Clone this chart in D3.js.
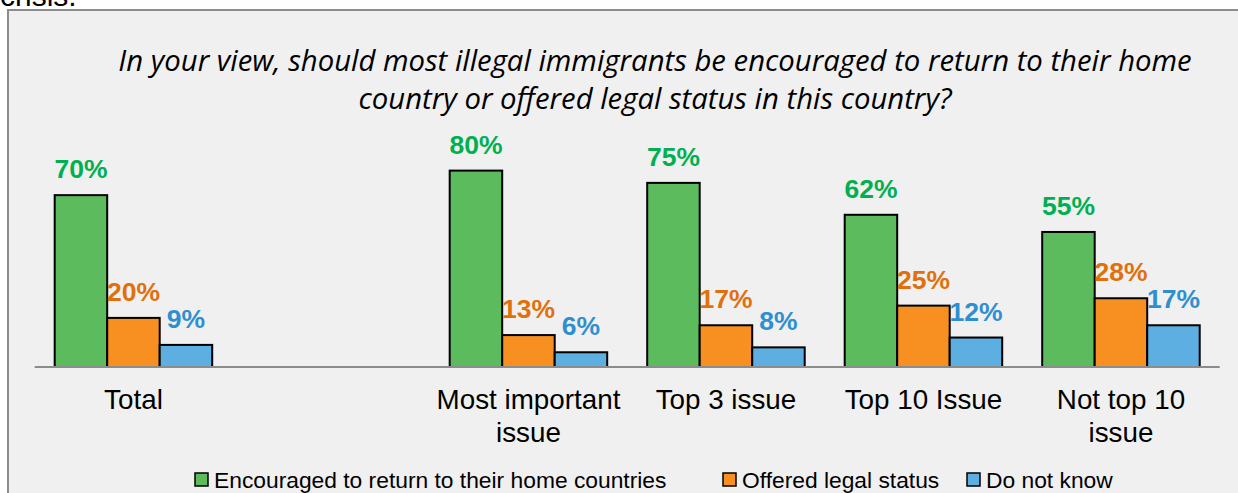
<!DOCTYPE html>
<html><head><meta charset="utf-8">
<script src="https://cdn.jsdelivr.net/npm/d3@7"></script>
<style>
html,body{margin:0;padding:0;background:#fff;}
svg{display:block;}
</style></head>
<body>
<svg id="chart" width="1238" height="493"></svg>
<script>
const categories = ["Total", "", "Most important issue", "Top 3 issue", "Top 10 Issue", "Not top 10 issue"];
const categoryLines = [["Total"], [""], ["Most important", "issue"], ["Top 3 issue"], ["Top 10 Issue"], ["Not top 10", "issue"]];
const seriesNames = ["Encouraged to return to their home countries", "Offered legal status", "Do not know"];
const returnHome = [70, null, 80, 75, 62, 55];
const legalStatus = [20, null, 13, 17, 25, 28];
const doNotKnow = [9, null, 6, 8, 12, 17];
const titleLines = ["In your view, should most illegal immigrants be encouraged to return to their home", "country or offered legal status in this country?"];
const fills = ["#5cbb5c", "#f79020", "#5cafe0"];
const labelColors = ["#00b050", "#e0700c", "#2e8fd0"];
const legendOffsets = [195, 723, 967];

const series = [returnHome, legalStatus, doNotKnow];
const svg = d3.select("#chart");

// cut-off text above frame
svg.append("text").attr("x", 0).attr("y", 6)
  .style("font-family", "Liberation Sans, Arial, sans-serif").style("font-size", "30px").attr("fill", "#000")
  .text("crisis.");

// frame
svg.append("rect").attr("x", 8).attr("y", 10).attr("width", 1240).attr("height", 500)
  .attr("fill", "#f0f0f0").attr("stroke", "#8c8c8c").attr("stroke-width", 2);

// title
const title = svg.append("text").attr("text-anchor", "middle")
  .style("font-family", "Open Sans, sans-serif").style("font-style", "italic").style("font-size", "29.3px").attr("fill", "#000");
title.selectAll("tspan").data(titleLines).join("tspan")
  .attr("x", 655).attr("y", (d, i) => 71 + i * 38).text(d => d);

const x0 = d3.scaleBand().domain(categories).range([34.7, 1219.7]).paddingInner(0.2025).paddingOuter(0.10125);
const x1 = d3.scaleBand().domain([0, 1, 2]).range([0, x0.bandwidth()]);
const y = d3.scaleLinear().domain([0, 100]).range([367, 121.5]);

const groups = svg.append("g").selectAll("g").data(categories).join("g")
  .attr("transform", d => `translate(${x0(d)},0)`);

groups.each(function(cat, ci) {
  const g = d3.select(this);
  series.forEach((s, si) => {
    const v = s[ci];
    if (v == null) return;
    g.append("rect").attr("x", x1(si)).attr("y", y(v))
      .attr("width", x1.bandwidth()).attr("height", y(0) - y(v))
      .attr("fill", fills[si]).attr("stroke", "#000").attr("stroke-width", 2);
    g.append("text").attr("x", x1(si) + x1.bandwidth() / 2).attr("y", y(v) - 17)
      .attr("text-anchor", "middle")
      .style("font-family", "Liberation Sans, Arial, sans-serif").style("font-weight", "bold").style("font-size", "26.5px")
      .attr("fill", labelColors[si]).text(v + "%");
  });
});

// axis
const axis = svg.append("g").attr("transform", `translate(0,${y(0)})`)
  .call(d3.axisBottom(x0).tickSize(0).tickPadding(0).tickFormat(""));
axis.select(".domain").attr("stroke", "#8c8c8c").attr("stroke-width", 2).attr("d", `M34.7,0H1219.7`);
axis.selectAll(".tick").each(function(d, i) {
  const t = d3.select(this).append("text").attr("fill", "#000").attr("text-anchor", "middle")
    .style("font-family", "Liberation Sans, Arial, sans-serif").style("font-size", "27.8px");
  categoryLines[i].forEach((line, li) => {
    t.append("tspan").attr("x", 0).attr("y", 42 + li * 33).text(line);
  });
});

// legend
const legend = svg.append("g");
seriesNames.forEach((name, i) => {
  const item = legend.append("g").attr("transform", `translate(${legendOffsets[i]},0)`);
  item.append("rect").attr("x", 0).attr("y", 473).attr("width", 13).attr("height", 13)
    .attr("fill", fills[i]).attr("stroke", "#000").attr("stroke-width", 1.5);
  item.append("text").attr("x", 19).attr("y", 488)
    .style("font-family", "Liberation Sans, Arial, sans-serif").style("font-size", "22.8px").attr("fill", "#000").text(name);
});
</script>
</body></html>
